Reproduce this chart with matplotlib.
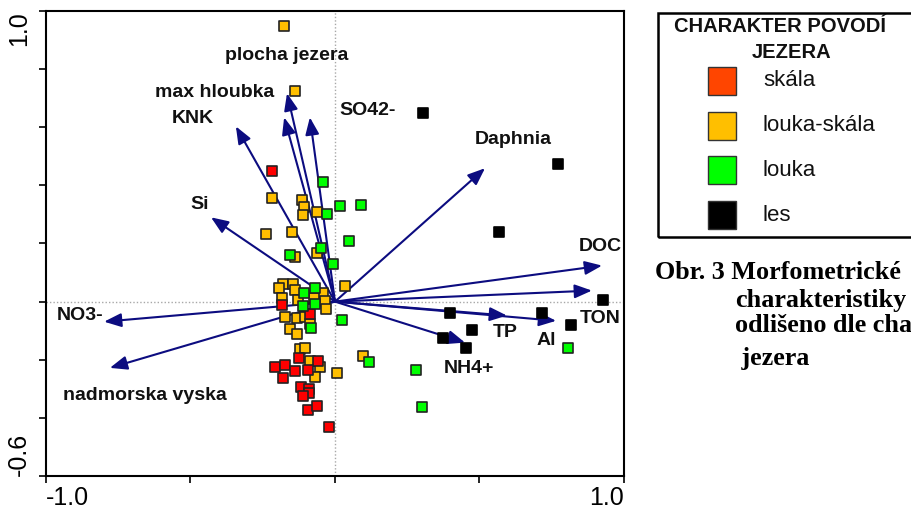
import numpy as np
import matplotlib
matplotlib.use('Agg')
import matplotlib.pyplot as plt
from matplotlib.patches import Rectangle

plt.rcParams['font.family'] = ['Liberation Sans', 'DejaVu Sans']

# site scores (axis 1, axis 2) by catchment type
skala_x = [-0.218, -0.183, -0.087, -0.125, -0.059, -0.208, -0.173, -0.138, -0.093,
           -0.180, -0.118, -0.090, -0.090, -0.111, -0.093, -0.062, -0.021]
skala_y = [0.448, -0.010, -0.041, -0.193, -0.203, -0.224, -0.217, -0.238, -0.234,
           -0.262, -0.293, -0.300, -0.314, -0.324, -0.372, -0.359, -0.431]

louka_skala_x = [-0.176, -0.138, -0.218, -0.114, -0.107, -0.111, -0.062, -0.239, -0.149,
                 -0.138, -0.062, 0.035, -0.180, -0.194, -0.145, -0.138, -0.042, -0.183,
                 -0.128, -0.073, -0.035, -0.031, -0.173, -0.131, -0.104, -0.087, -0.156,
                 -0.131, -0.121, -0.104, -0.087, -0.052, -0.069, 0.007, 0.097]
louka_skala_y = [0.948, 0.724, 0.355, 0.348, 0.324, 0.297, 0.307, 0.231, 0.241,
                 0.152, 0.169, 0.055, 0.062, 0.048, 0.059, 0.041, 0.031, 0.014,
                 0.007, 0.014, 0.003, -0.024, -0.052, -0.055, -0.052, -0.076, -0.093,
                 -0.110, -0.162, -0.159, -0.203, -0.224, -0.259, -0.245, -0.186]

louka_x = [-0.042, 0.017, 0.090, -0.028, 0.048, -0.048, -0.156, -0.007, -0.107,
           -0.069, -0.111, -0.069, -0.083, 0.024, 0.118, 0.280, 0.301, 0.806]
louka_y = [0.410, 0.328, 0.331, 0.303, 0.207, 0.183, 0.159, 0.128, 0.031,
           0.048, -0.014, -0.007, -0.090, -0.062, -0.207, -0.234, -0.362, -0.159]

les_x = [0.304, 0.772, 0.567, 0.927, 0.398, 0.374, 0.474, 0.453, 0.716, 0.817]
les_y = [0.648, 0.472, 0.241, 0.007, -0.038, -0.124, -0.097, -0.159, -0.038, -0.079]

# environmental variables (arrow tips)
env_names = ['plocha jezera', 'max hloubka', 'SO42-', 'KNK', 'Si', 'Daphnia', 'DOC',
             'TON', 'TP', 'Al', 'NH4+', 'NO3-', 'nadmorska vyska']
env_x = [-0.166, -0.176, -0.087, -0.343, -0.429, 0.519, 0.924,
         0.889, 0.595, 0.765, 0.450, -0.799, -0.779]
env_y = [0.717, 0.634, 0.634, 0.603, 0.290, 0.459, 0.124,
         0.038, -0.048, -0.066, -0.141, -0.069, -0.228]

legend_title = 'CHARAKTER POVODÍ'
legend_title2 = 'JEZERA'
legend_labels = ['skála', 'louka-skála', 'louka', 'les']
caption = ['Obr. 3 Morfometrické', 'charakteristiky', 'odlišeno dle charakteru povodí', ' jezera']

# label offsets from arrow tip, pixels
label_off = {'plocha jezera': (0, 38), 'max hloubka': (-70, 25), 'SO42-': (58, 7),
             'KNK': (-43, 8), 'Si': (-11, 13), 'Daphnia': (28, 29), 'DOC': (-2, 19),
             'TON': (8, -28), 'TP': (-2, -17), 'Al': (-10, -20), 'NH4+': (4, -26),
             'NO3-': (-24, 6), 'nadmorska vyska': (35, -28)}

W, H = 912, 508
fig = plt.figure(figsize=(W / 100, H / 100), dpi=100)
ax = fig.add_axes([46 / W, 1 - 476 / H, 578 / W, 465 / H])
ax.set_xlim(-1, 1)
ax.set_ylim(-0.6, 1.0)

ax.axhline(0, color='#a8a8a8', lw=1, ls=(0, (1, 1.5)), zorder=1)
ax.axvline(0, color='#a8a8a8', lw=1, ls=(0, (1, 1.5)), zorder=1)

navy = '#0c0c80'
for name, x, y in zip(env_names, env_x, env_y):
    ax.annotate('', xy=(x, y), xytext=(0, 0),
                arrowprops=dict(arrowstyle='-|>,head_length=0.8,head_width=0.32',
                                color=navy, lw=1.5, mutation_scale=13,
                                shrinkA=0, shrinkB=0), zorder=2)

ms = 62
ax.scatter(louka_skala_x, louka_skala_y, marker='s', s=ms, c='#ffbf00', edgecolors='#222222', linewidths=1.2, zorder=3)
ax.scatter(skala_x, skala_y, marker='s', s=ms, c='#ff0000', edgecolors='#222222', linewidths=1.2, zorder=3)
ax.scatter(louka_x, louka_y, marker='s', s=ms, c='#00ff00', edgecolors='#222222', linewidths=1.2, zorder=3)
ax.scatter(les_x, les_y, marker='s', s=ms, c='black', edgecolors='black', linewidths=1.2, zorder=3)

for name, x, y in zip(env_names, env_x, env_y):
    dx, dy = label_off[name]
    ax.annotate(name, xy=(x, y), xytext=(dx, dy), textcoords='offset pixels',
                ha='center', va='center', fontsize=14, fontweight='bold', color='#111111', zorder=4)

ax.set_xticks([-1, 1])
ax.set_xticklabels(['-1.0', '1.0'])
ax.set_xticks([-0.5, 0, 0.5], minor=True)
ax.set_yticks([-0.6, 1.0])
ax.set_yticklabels(['-0.6', '1.0'], rotation=90)
ax.set_yticks(np.arange(-0.4, 0.9, 0.2), minor=True)
ax.tick_params(which='both', direction='out', length=5, width=1.2, labelsize=18)
ax.tick_params(axis='x', pad=2)
ax.tick_params(axis='y', pad=6)
xl = ax.get_xticklabels()
xl[0].set_ha('left')
xl[1].set_ha('right')
yl = ax.get_yticklabels()
yl[0].set_va('bottom')
yl[1].set_va('top')
for s in ax.spines.values():
    s.set_linewidth(1.5)

# legend box
def px(x, y):
    return x / W, 1 - y / H

fig.add_artist(Rectangle(px(658, 237), 300 / W, 224 / H, transform=fig.transFigure,
                         fill=False, ec='black', lw=1.8))
fig.text(*px(780, 32), legend_title, ha='center', va='baseline', fontsize=14.5, fontweight='bold', color='#111111')
fig.text(*px(792, 58), legend_title2, ha='center', va='baseline', fontsize=14.5, fontweight='bold', color='#111111')
legend_colors = ['#ff4500', '#ffbf00', '#00ff00', '#000000']
for i, (lab, col) in enumerate(zip(legend_labels, legend_colors)):
    yc = 81 + i * 44.7
    fig.add_artist(Rectangle(px(708, yc + 14), 28 / W, 28 / H, transform=fig.transFigure,
                             fc=col, ec='#333333', lw=1))
    fig.text(*px(763, yc), lab, ha='left', va='center', fontsize=16, color='#111111')

# caption
cap_pos = [(655, 279), (735, 307), (735, 332), (735, 365)]
for line, (cx, cy) in zip(caption, cap_pos):
    fig.text(*px(cx, cy), line, ha='left', va='baseline', fontsize=18.8, fontweight='bold',
             family='Liberation Serif')

fig.savefig('out.png', dpi=100)
